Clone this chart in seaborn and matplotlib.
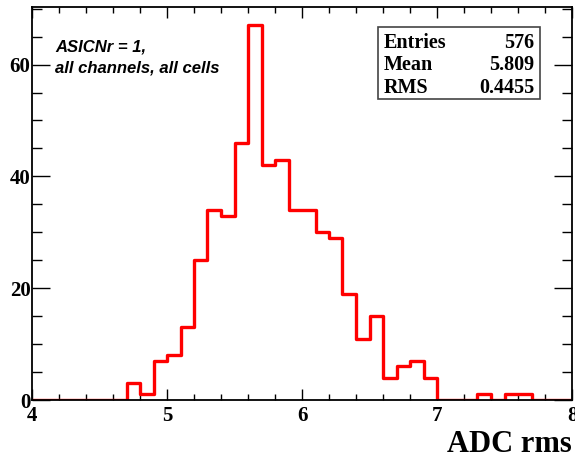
import numpy as np
import pandas as pd
import matplotlib
matplotlib.use("Agg")
import matplotlib.pyplot as plt
import seaborn as sns
from matplotlib.patches import Rectangle
from matplotlib.ticker import MultipleLocator

# bin edges 4.0 .. 8.0 in steps of 0.1, counts
edges = np.round(np.arange(4.0, 8.0001, 0.1), 2)
counts = [0, 0, 0, 0, 0, 0, 0, 3, 1, 7,
          8, 13, 25, 34, 33, 46, 67, 42, 43, 34,
          34, 30, 29, 19, 11, 15, 4, 6, 7, 4,
          0, 0, 0, 1, 0, 1, 1, 0, 0, 0]
stat_names = ["Entries", "Mean", "RMS"]
stat_values = ["576", "5.809", "0.4455"]

df = pd.DataFrame({"rms": (edges[:-1] + edges[1:]) / 2, "n": counts})

sns.set_style("ticks")
plt.rcParams["font.family"] = ["Liberation Serif", "DejaVu Serif"]
plt.rcParams["text.color"] = "black"

fig = plt.figure(figsize=(5.75, 4.58), dpi=100)
ax = fig.add_axes([32 / 575, 1 - 400 / 458, 540 / 575, 393.3 / 458])

sns.histplot(data=df, x="rms", weights="n", bins=[float(e) for e in edges],
             element="step", fill=False, color="red", linewidth=2.4, ax=ax)

ax.set_xlim(4, 8)
ax.set_ylim(0, 70.35)
ax.xaxis.set_major_locator(MultipleLocator(1))
ax.xaxis.set_minor_locator(MultipleLocator(0.2))
ax.yaxis.set_major_locator(MultipleLocator(20))
ax.yaxis.set_minor_locator(MultipleLocator(5))
ax.tick_params(which="both", direction="in", top=True, right=True,
               colors="black", labelcolor="black")
ax.tick_params(axis="x", which="major", length=8, width=1, pad=4)
ax.tick_params(axis="x", which="minor", length=4.5, width=1)
ax.tick_params(axis="y", which="major", length=13, width=1, pad=1)
ax.tick_params(axis="y", which="minor", length=7, width=1)
for lab in ax.get_xticklabels() + ax.get_yticklabels():
    lab.set_fontweight("bold")
    lab.set_fontsize(15)
for s in ax.spines.values():
    s.set_linewidth(1.3)
    s.set_color("black")

ax.set_ylabel("")
ax.set_xlabel("ADC rms", loc="right", fontsize=22, fontweight="bold",
              labelpad=3, color="black")

ax.text(0.043, 0.871, "ASICNr = 1,\nall channels, all cells", transform=ax.transAxes,
        ha="left", va="center", fontsize=12, fontweight="bold", fontstyle="italic",
        family="Liberation Sans", linespacing=1.45, color="black")

ax.add_patch(Rectangle((0.641, 0.765), 0.30, 0.183, transform=ax.transAxes,
                       fill=True, facecolor="white", edgecolor="#444444", lw=1.2, zorder=5))
for i, (nm, val) in enumerate(zip(stat_names, stat_values)):
    y = 0.908 - i * 0.0575
    ax.text(0.652, y, nm, transform=ax.transAxes, ha="left", va="center",
            fontsize=14.5, fontweight="bold", zorder=6, color="black")
    ax.text(0.931, y, val, transform=ax.transAxes, ha="right", va="center",
            fontsize=14.5, fontweight="bold", zorder=6, color="black")

fig.savefig("out.png", dpi=100)
